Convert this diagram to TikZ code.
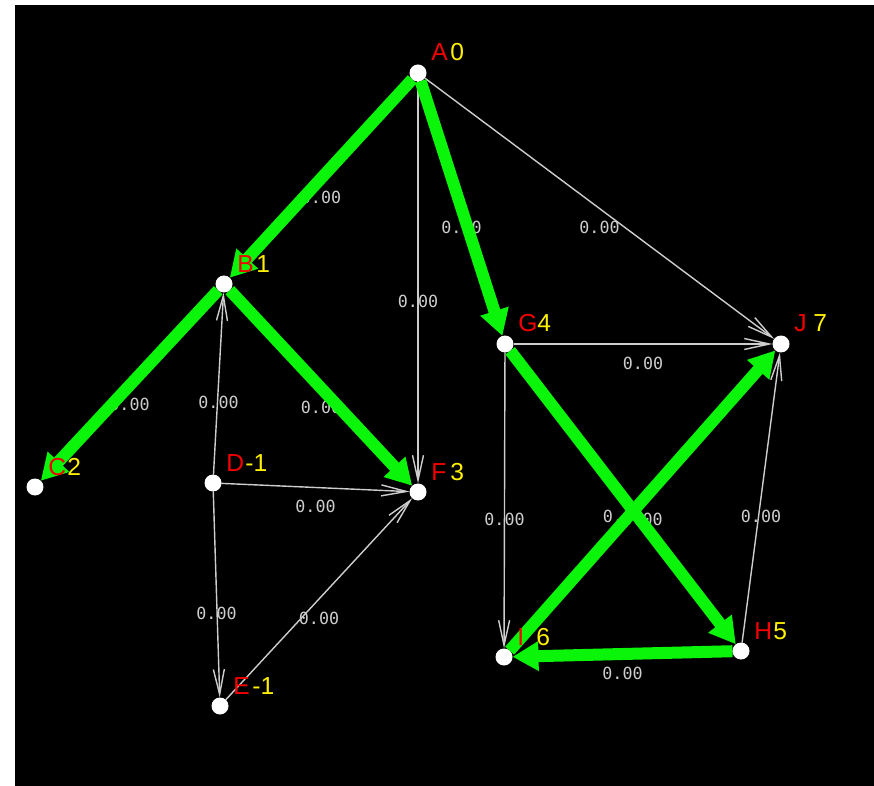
\documentclass[tikz,border=0pt]{standalone}
\usepackage{fontspec}
\setmainfont{Liberation Sans}
\newfontfamily\wtfont{DejaVu Sans Mono}
\usetikzlibrary{arrows.meta}
\definecolor{treegreen}{RGB}{10,245,10}
\definecolor{edgegray}{RGB}{205,205,205}
\definecolor{wtgray}{RGB}{205,205,205}
\definecolor{lblred}{RGB}{245,0,0}
\definecolor{lblyellow}{RGB}{255,240,0}

\tikzset{
  vertex/.style={circle, minimum size=0.34cm, inner sep=0pt, outer sep=0pt},
  thinedge/.style={edgegray, line width=0.8pt, -{Straight Barb[length=0.5cm,width=0.22cm]}},
  treeedge/.style={treegreen, line width=0.24cm, -{Triangle[length=0.52cm,width=0.56cm]}},
  wlabel/.style={midway, yshift=-0.38cm, text=wtgray, inner sep=0pt,
    font=\wtfont\fontsize{9.5}{11}\selectfont},
  vlabel/.style={anchor=base west, inner sep=0pt, font=\fontsize{14}{16}\selectfont},
}

\begin{document}
\begin{tikzpicture}[x=0.02cm, y=-0.02cm]

  % === CANVAS ===
  \useasboundingbox (0,0) rectangle (874,786);
  \fill[white] (0,0) rectangle (874,786);
  \fill[black] (15,5) rectangle (874,786);

  % === VERTICES (positions only, discs are drawn last) ===
  \foreach \n/\x/\y in {A/418/73, B/224/284, C/35/487, D/213/483, E/220/706,
                        F/418/492, G/505/344, H/741/651, I/504/657, J/781/344} {
    \node[vertex] (\n) at (\x,\y) {};
  }

  % === THIN EDGES ===
  \draw[thinedge] (A) -- (F) node[wlabel] (wAF) {0.00};
  \draw[thinedge] (A) -- (J) node[wlabel] (wAJ) {0.00};
  \draw[thinedge] (D) -- (B) node[wlabel] (wDB) {0.00};
  \draw[thinedge] (D) -- (F) node[wlabel] (wDF) {0.00};
  \draw[thinedge] (D) -- (E) node[wlabel] (wDE) {0.00};
  \draw[thinedge] (E) -- (F) node[wlabel] (wEF) {0.00};
  \draw[thinedge] (G) -- (J) node[wlabel] (wGJ) {0.00};
  \draw[thinedge] (G) -- (I) node[wlabel] (wGI) {0.00};
  \draw[thinedge] (H) -- (J) node[wlabel] (wHJ) {0.00};

  % weights of the tree edges (covered in part by the green)
  \path (A) -- (B) node[wlabel] (wAB) {0.00};
  \path (B) -- (C) node[wlabel] (wBC) {0.00};
  \path (B) -- (F) node[wlabel] (wBF) {0.00};
  \path (A) -- (G) node[wlabel] (wAG) {0.00};
  \path (G) -- (H) node[wlabel] (wGH) {0.00};
  \path (H) -- (I) node[wlabel] (wHI) {0.00};
  \path (I) -- (J) node[wlabel] (wIJ) {0.00};

  % === TREE EDGES ===
  \draw[treeedge] (A) -- (B);
  \draw[treeedge] (B) -- (C);
  \draw[treeedge] (B) -- (F);
  \draw[treeedge] (A) -- (G);
  \draw[treeedge] (G) -- (H);
  \draw[treeedge] (H) -- (I);
  \draw[treeedge] (I) -- (J);

  % === DISCS AND LABELS ===
  \foreach \n/\k in {A/0, B/1, C/2, D/-1, E/-1, F/3, G/4, H/5, I/6, J/7} {
    \fill[white] (\n) circle (0.17cm);
    \node[vlabel] (l\n) at ([xshift=0.26cm, yshift=0.24cm]\n.center)
      {\makebox[0.38cm][l]{\textcolor{lblred}{\n}}\textcolor{lblyellow}{\k}};
  }

\end{tikzpicture}
\end{document}
